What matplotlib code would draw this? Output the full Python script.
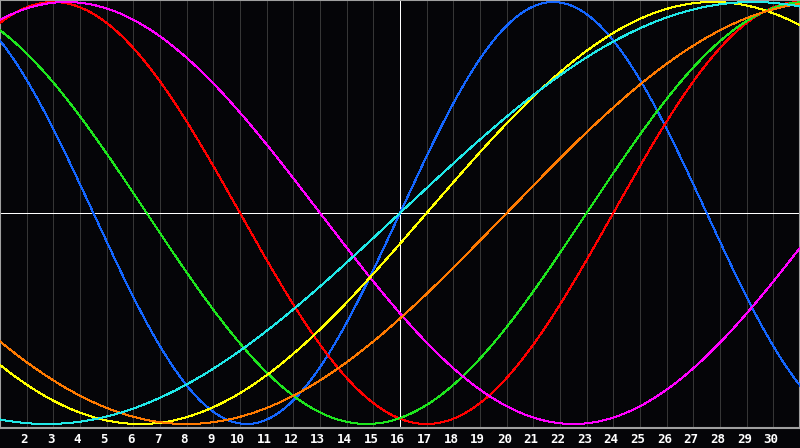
import numpy as np
import matplotlib
matplotlib.use("Agg")
import matplotlib.pyplot as plt

# Chart data
days = list(range(1, 32))               # x range shown (day 1 .. day 31)
tick_days = list(range(2, 31))          # labelled days
today = 16                              # white crosshair

# cycle length (days) and day where each cycle crosses zero going up
cycle_names = ["physical", "emotional", "intellectual", "intuitive",
               "aesthetic", "awareness", "spiritual"]
cycle_periods = [23, 28, 33, 38, 43, 48, 53]
cycle_zero_up = [16, 24, 23, 32, 17, 20, 16]
cycle_colors = ["#1466ff", "#ff0000", "#1ee61e", "#ff00ff",
                "#ffff00", "#ff7a00", "#20e8e8"]

bg = "#050508"
px = 72 / 100   # one pixel in points

fig = plt.figure(figsize=(8, 4.48), dpi=100, facecolor=bg)
ax = fig.add_axes([0, 20 / 448, 1, 428 / 448])
ax.set_facecolor(bg)

t = np.linspace(days[0], days[-1], 1600)

# day grid
for d in tick_days:
    ax.axvline(d, color="#363636", lw=px, zorder=1, antialiased=False)

# crosshair
ax.axvline(today, color="white", lw=px, zorder=2, antialiased=False)
ax.axhline(0, color="white", lw=px, zorder=2, antialiased=False)

for name, p, z, c in zip(cycle_names, cycle_periods, cycle_zero_up, cycle_colors):
    ax.plot(t, np.sin(2 * np.pi * (t - z) / p), color=c, lw=px,
            zorder=3, antialiased=False, label=name)

ax.set_xlim(days[0], days[-1])
ax.set_ylim(-1.019, 1.0095)
ax.set_xticks([])
ax.set_yticks([])
for s in ax.spines.values():
    s.set_color("#a0a0a0")
    s.set_linewidth(1.5)

# day labels under the plot
for d in tick_days:
    fig.text((d - days[0]) / (days[-1] - days[0]) - 0.003, 0.02, str(d),
             color="white", fontsize=9, fontweight="bold",
             family="DejaVu Sans Mono", ha="center", va="center")

fig.savefig("out.png", dpi=100, facecolor=bg)
